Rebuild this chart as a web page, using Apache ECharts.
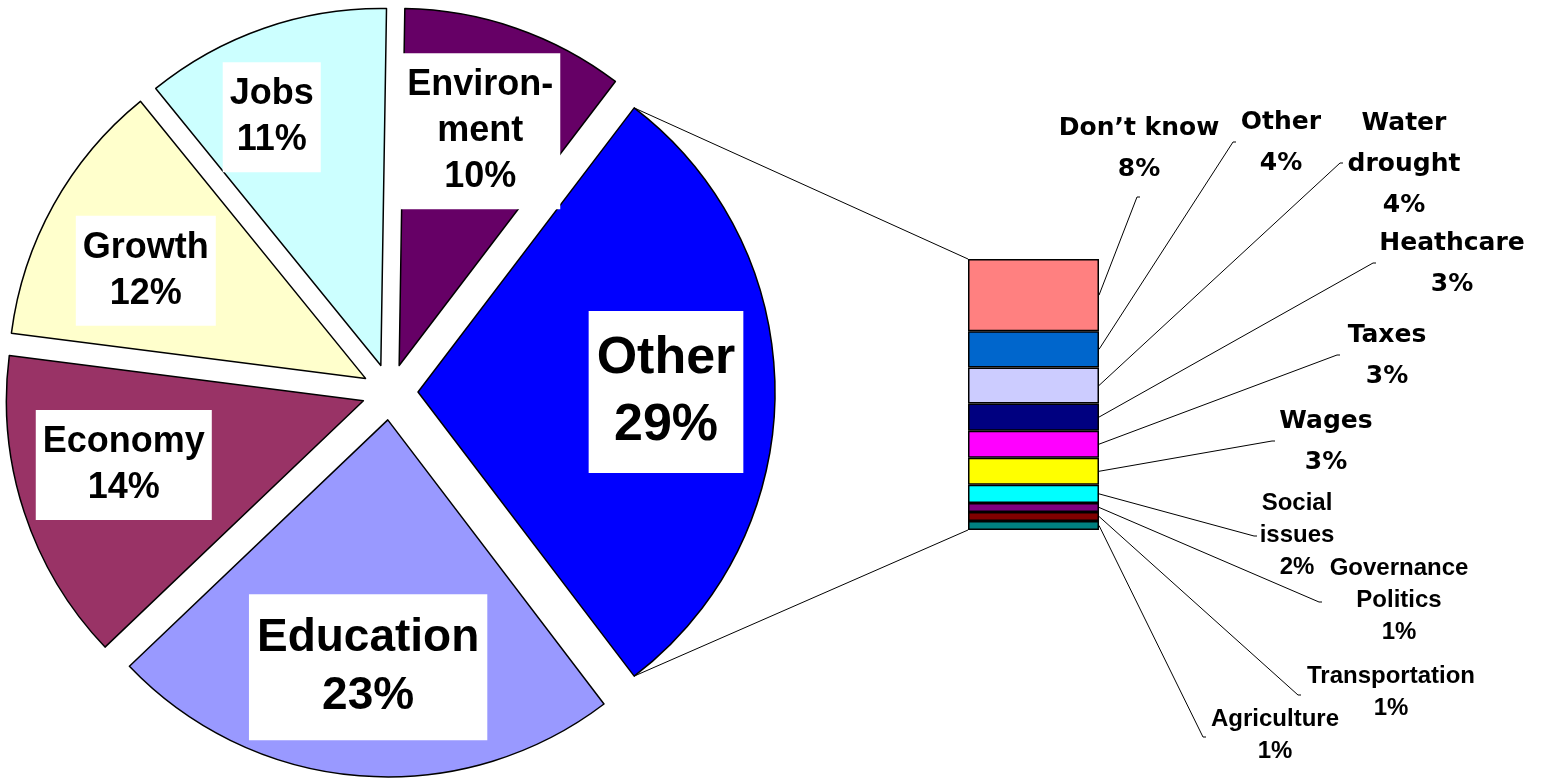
<!DOCTYPE html>
<html>
<head>
<meta charset="utf-8">
<script src="https://cdn.jsdelivr.net/npm/echarts@6/dist/echarts.min.js"></script>
<style>
  html, body { margin: 0; padding: 0; background: #fff; }
  #chart { width: 1546px; height: 781px; }
</style>
</head>
<body>
<div id="chart"></div>
<script>
// Top-level issues (%), clockwise from 12 o'clock
const pieNames  = ['Environment', 'Other', 'Education', 'Economy', 'Growth', 'Jobs'];
const pieLabels = ['Environ-\nment', 'Other', 'Education', 'Economy', 'Growth', 'Jobs'];
const pieValues = [10, 29, 23, 14, 12, 11];

// Breakdown of "Other" (%), top to bottom of the stacked bar
const otherNames  = ['Don’t know', 'Other', 'Water drought', 'Heathcare', 'Taxes', 'Wages',
                     'Social issues', 'Governance Politics', 'Transportation', 'Agriculture'];
const otherLabels = ['Don’t know', 'Other', 'Water\ndrought', 'Heathcare', 'Taxes', 'Wages',
                     'Social\nissues', 'Governance\nPolitics', 'Transportation', 'Agriculture'];
const otherValues = [8, 4, 4, 3, 3, 3, 2, 1, 1, 1];

// ---- styling ----
const pieColors = ['#660066', '#0000FF', '#9999FF', '#993366', '#FFFFCC', '#CCFFFF'];
const barColors = ['#FF8080', '#0066CC', '#CCCCFF', '#000080', '#FF00FF', '#FFFF00',
                   '#00FFFF', '#800080', '#800000', '#008080'];

const PIE_CENTER = [390, 392];
const PIE_RADIUS = 357;
const EXPLODE = 28;
const LABEL_RING = [133, 357];          // inside labels sit at the ring's mid radius

const pieFont = 'Liberation Sans, Arial, sans-serif';
const pieLabelDefault = { fontSize: 36, lineHeight: 46, padding: [9, 7, 9, 7] };
const pieLabelStyle = {
  Other:     { fontSize: 52, lineHeight: 67, padding: [14, 8, 14, 8] },
  Education: { fontSize: 46, lineHeight: 58, padding: [15, 8, 15, 8] }
};
const pieLabelNudge = { Jobs: [-28, -14], Growth: [-3, 13], Economy: [-4, -13] };

const bigBarFont   = { fontFamily: 'DejaVu Sans', fontSize: 25, lineHeight: 41 };
const smallBarFont = { fontFamily: pieFont, fontSize: 24, lineHeight: 32 };
const smallBarLabels = ['Social issues', 'Governance Politics', 'Transportation', 'Agriculture'];

// label block centres and leader-line end points for the bar breakdown
const barLabelPos = [[1139, 149], [1281, 143], [1404, 164], [1452, 264], [1387, 356],
                     [1326, 442], [1297, 535], [1399, 600], [1391, 692], [1275, 735]];
const leaderEnds  = [[1137, 197], [1233, 142], [1340, 163], [1373, 263], [1337, 355],
                     [1272, 441], [1254, 536], [1319, 602], [1298, 695], [1203, 737]];

const BAR_GRID = { left: 968, top: 259, width: 131, height: 271 };

// ---- geometry of the pie rotation: the broken-out slice faces the bar ----
const sum = arr => arr.reduce((a, b) => a + b, 0);
const total = sum(pieValues);
const otherIdx = pieNames.indexOf('Other');
const before = sum(pieValues.slice(0, otherIdx));
const startAngle = (before + pieValues[otherIdx] / 2) / total * 360;

const chart = echarts.init(document.getElementById('chart'));

function pieData(forLabels) {
  return pieNames.map((name, i) => {
    const item = { name, value: pieValues[i], selected: true };
    if (forLabels) {
      const st = pieLabelStyle[name] || pieLabelDefault;
      item.itemStyle = { color: 'rgba(0,0,0,0)', borderWidth: 0 };
      item.label = { fontSize: st.fontSize, lineHeight: st.lineHeight, padding: st.padding };
    } else {
      item.itemStyle = { color: pieColors[i] };
    }
    return item;
  });
}

const pieCommon = {
  type: 'pie',
  center: PIE_CENTER,
  startAngle: startAngle,
  clockwise: true,
  selectedMode: 'multiple',
  selectedOffset: EXPLODE,
  avoidLabelOverlap: false,
  silent: true,
  animation: false,
  emphasis: { disabled: true },
  labelLine: { show: false }
};

const series = [
  Object.assign({}, pieCommon, {
    name: 'issues',
    radius: [0, PIE_RADIUS],
    data: pieData(false),
    label: { show: false },
    itemStyle: { borderColor: '#000', borderWidth: 1.5 },
    select: { itemStyle: { borderColor: '#000', borderWidth: 1.5 } }
  }),
  Object.assign({}, pieCommon, {
    name: 'issue labels',
    radius: LABEL_RING,
    data: pieData(true),
    z: 3,
    itemStyle: { color: 'rgba(0,0,0,0)', borderWidth: 0 },
    select: { itemStyle: { color: 'rgba(0,0,0,0)', borderWidth: 0 } },
    label: {
      show: true,
      position: 'inside',
      fontFamily: pieFont,
      fontWeight: 'bold',
      color: '#000',
      align: 'center',
      backgroundColor: '#fff',
      formatter: p => pieLabels[p.dataIndex] + '\n' + p.value + '%'
    },
    labelLayout: p => {
      const n = pieLabelNudge[pieNames[p.dataIndex]];
      return n ? { dx: n[0], dy: n[1] } : {};
    }
  })
];

otherNames.forEach((name, i) => {
  const font = smallBarLabels.indexOf(name) >= 0 ? smallBarFont : bigBarFont;
  series.push({
    type: 'bar',
    name: name,
    stack: 'other',
    data: [otherValues[i]],
    barWidth: '100%',
    silent: true,
    animation: false,
    itemStyle: { color: barColors[i], borderColor: '#000', borderWidth: 1.5 },
    label: {
      show: true,
      fontFamily: font.fontFamily,
      fontSize: font.fontSize,
      lineHeight: font.lineHeight,
      fontWeight: 'bold',
      color: '#000',
      align: 'center',
      formatter: p => otherLabels[i] + '\n' + p.value + '%'
    },
    labelLayout: {
      x: barLabelPos[i][0], y: barLabelPos[i][1],
      align: 'center', verticalAlign: 'middle'
    }
  });
});

chart.setOption({
  backgroundColor: '#fff',
  animation: false,
  grid: BAR_GRID,
  xAxis: { type: 'category', data: [pieNames[otherIdx]], show: false },
  yAxis: { type: 'value', min: 0, max: sum(otherValues), inverse: true, show: false },
  series: series
});

// ---- connector and leader lines, from the laid-out marks ----
const model = chart.getModel();
const barRects = otherNames.map((_, i) =>
  model.getSeriesByIndex(2 + i).getData().getItemLayout(0));

const graphics = [];
const lineStyle = { stroke: '#000', lineWidth: 1 };

// leader lines: segment mid-right edge -> label
barRects.forEach((r, i) => {
  const x0 = r.x + r.width;
  const y0 = r.y + r.height / 2;
  const e = leaderEnds[i];
  graphics.push({
    type: 'polyline', silent: true, z: 1,
    shape: { points: [[x0, y0], e, [e[0] + 3, e[1]]] },
    style: lineStyle
  });
});

// connectors: ends of the broken-out slice arc -> corners of the bar
const pieLayout = model.getSeriesByIndex(0).getData().getItemLayout(otherIdx);
const mid = (pieLayout.startAngle + pieLayout.endAngle) / 2;
const ox = pieLayout.cx + Math.cos(mid) * EXPLODE;
const oy = pieLayout.cy + Math.sin(mid) * EXPLODE;
const arcPt = a => [ox + pieLayout.r * Math.cos(a), oy + pieLayout.r * Math.sin(a)];
const pTop = arcPt(Math.min(pieLayout.startAngle, pieLayout.endAngle));
const pBot = arcPt(Math.max(pieLayout.startAngle, pieLayout.endAngle));
const first = barRects[0], last = barRects[barRects.length - 1];
const barTop = Math.min(first.y, first.y + first.height);
const barBot = Math.max(last.y, last.y + last.height);
const barLeft = first.x;
graphics.push({ type: 'line', silent: true, z: 0,
  shape: { x1: pTop[0], y1: pTop[1], x2: barLeft, y2: barTop }, style: lineStyle });
graphics.push({ type: 'line', silent: true, z: 0,
  shape: { x1: pBot[0], y1: pBot[1], x2: barLeft, y2: barBot }, style: lineStyle });

chart.setOption({ graphic: graphics });
</script>
</body>
</html>
